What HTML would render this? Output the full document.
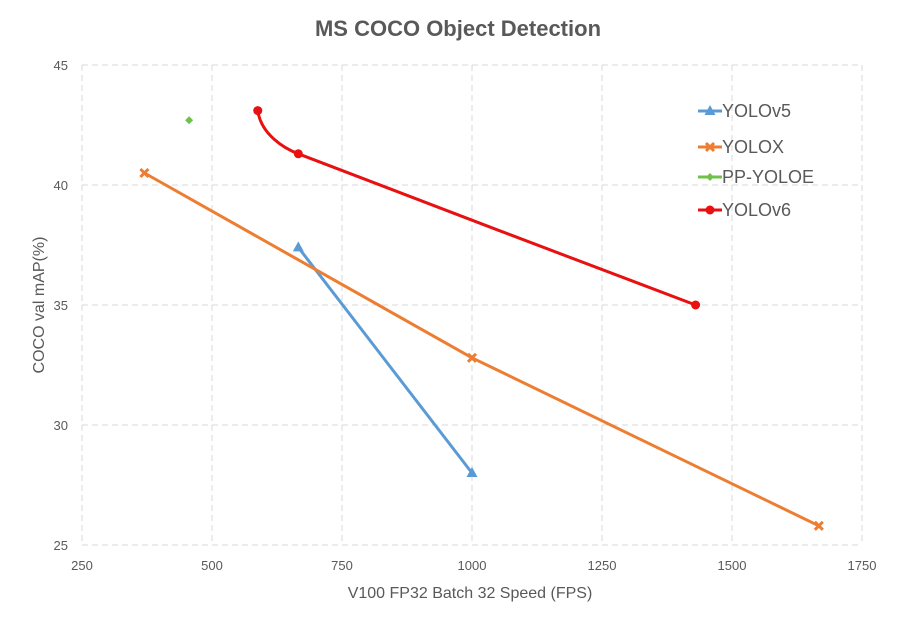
<!DOCTYPE html>
<html><head><meta charset="utf-8"><style>
body{margin:0;background:#fff;}
svg text{font-family:"Liberation Sans",sans-serif;}
</style></head><body>
<svg id="chart" width="922" height="614" xmlns="http://www.w3.org/2000/svg">
<text x="458" y="36" text-anchor="middle" font-size="22" font-weight="bold" fill="#595959">MS COCO Object Detection</text>
<g id="grid"></g><g id="axes"></g><g id="series"></g><g id="legend"></g>
<text x="470" y="598" text-anchor="middle" font-size="16" fill="#595959">V100 FP32 Batch 32 Speed (FPS)</text>
<text transform="translate(44,305) rotate(-90)" text-anchor="middle" font-size="16" fill="#595959">COCO val mAP(%)</text>
</svg>
<script>
const xTicks=[250,500,750,1000,1250,1500,1750];
const yTicks=[25,30,35,40,45];
const seriesNames=["YOLOv5","YOLOX","PP-YOLOE","YOLOv6"];
const v5X=[666,1000], v5Y=[37.4,28.0];
const yoloxX=[370,1000,1667], yoloxY=[40.5,32.8,25.8];
const ppX=[456], ppY=[42.7];
const v6X=[588,666,1430], v6Y=[43.1,41.3,35.0];
const colors=["#5b9bd5","#ed7d31","#70c14a","#e81010"];
const NS="http://www.w3.org/2000/svg";
const X0=82,X1=862,Y0=545,Y1=65;
const sx=v=>X0+(v-250)/1500*(X1-X0);
const sy=v=>Y0-(v-25)/20*(Y0-Y1);
function mk(tag,at,parent){const e=document.createElementNS(NS,tag);for(const k in at)e.setAttribute(k,at[k]);document.getElementById(parent).appendChild(e);return e;}
xTicks.forEach(t=>{
 const l=mk('line',{x1:sx(t),x2:sx(t),y1:Y1,y2:Y0,stroke:'#d9d9d9','stroke-dasharray':'6,4'},'grid');
 
 
 const tx=mk('text',{x:sx(t),y:Y0+25,'text-anchor':'middle','font-size':13,fill:'#595959'},'axes');tx.textContent=t;
 
 
});
yTicks.forEach(t=>{
 const l=mk('line',{x1:X0,x2:X1,y1:sy(t),y2:sy(t),stroke:'#d9d9d9','stroke-dasharray':'6,4'},'grid');
 
 
 const tx=mk('text',{x:X0-14,y:sy(t)+5,'text-anchor':'end','font-size':13,fill:'#595959'},'axes');tx.textContent=t;
 
 
});
function marker(type,x,y,c,g){
 let e;
 if(type==='tri')e=mk('path',{d:`M${x},${y-6}L${x+5.5},${y+4}L${x-5.5},${y+4}Z`,fill:c},g);
 else if(type==='x')e=mk('path',{d:`M${x-4},${y-4}L${x+4},${y+4}M${x+4},${y-4}L${x-4},${y+4}`,stroke:c,'stroke-width':3},g);
 else if(type==='dia')e=mk('path',{d:`M${x},${y-4}L${x+4},${y}L${x},${y+4}L${x-4},${y}Z`,fill:c},g);
 else e=mk('circle',{cx:x,cy:y,r:4.5,fill:c},g);
 
 
}
function smooth(p){
 let d=`M${p[0][0]},${p[0][1]}`;
 for(let i=0;i<p.length-1;i++){
  const b=p[i],c=p[i+1];
  const nx=p[Math.min(p.length-1,i+2)];
  let dx=nx[0]-c[0],dy=nx[1]-c[1];
  if(i+2>=p.length){dx=c[0]-b[0];dy=c[1]-b[1];}
  const L=Math.hypot(dx,dy)||1;
  const k=Math.min(15,Math.hypot(c[0]-b[0],c[1]-b[1])*0.3);
  const c2=[c[0]-dx/L*k,c[1]-dy/L*k];
  let c1;
  if(i===0)c1=[b[0]+(c[0]-b[0])*0.08,b[1]+(c[1]-b[1])*0.55];
  else{const pdx=c[0]-p[i-1][0],pdy=c[1]-p[i-1][1];const pl=Math.hypot(pdx,pdy)||1;c1=[b[0]+pdx/pl*k,b[1]+pdy/pl*k];}
  d+=` C${c1[0]},${c1[1]} ${c2[0]},${c2[1]} ${c[0]},${c[1]}`;
 }
 return d;
}
const data=[[v5X,v5Y,'tri',false],[yoloxX,yoloxY,'x',false],[ppX,ppY,'dia',false],[v6X,v6Y,'dot',true]];
data.forEach((s,i)=>{
 const pts=s[0].map((x,j)=>[sx(x),sy(s[1][j])]);
 if(pts.length>1){
  const d=s[3]?smooth(pts):'M'+pts.map(p=>p.join(',')).join('L');
  const pa=mk('path',{d,fill:'none',stroke:colors[i],'stroke-width':3},'series');
  
  
 }
 pts.forEach(p=>marker(s[2],p[0],p[1],colors[i],'series'));
 const ly=[111,147,177,210][i];
 const ll=mk('line',{x1:698,x2:722,y1:ly,y2:ly,stroke:colors[i],'stroke-width':3},'legend');
 
 
 marker(s[2],710,ly,colors[i],'legend');
 const lt=mk('text',{x:722,y:ly+6,'font-size':18,fill:'#595959'},'legend');lt.textContent=seriesNames[i];
 
 
});
</script>
</body></html>
